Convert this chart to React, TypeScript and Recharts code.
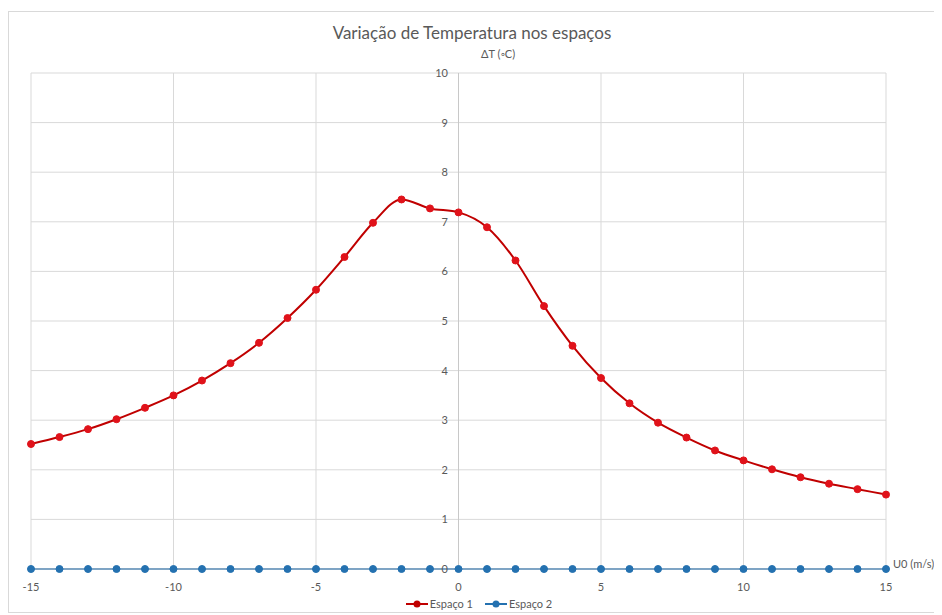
import { CartesianGrid, Legend, Line, LineChart, ReferenceLine, XAxis, YAxis } from 'recharts';

// Variação de Temperatura nos espaços

const velocidades = [-15, -14, -13, -12, -11, -10, -9, -8, -7, -6, -5, -4, -3, -2, -1, 0, 1, 2, 3, 4, 5, 6, 7, 8, 9, 10, 11, 12, 13, 14, 15];
const espaco1 = [2.52, 2.66, 2.82, 3.02, 3.25, 3.5, 3.8, 4.15, 4.56, 5.06, 5.63, 6.29, 6.98, 7.45, 7.27, 7.19, 6.89, 6.22, 5.3, 4.5, 3.85, 3.34, 2.95, 2.65, 2.39, 2.19, 2.01, 1.85, 1.72, 1.61, 1.5];
const espaco2 = [0, 0, 0, 0, 0, 0, 0, 0, 0, 0, 0, 0, 0, 0, 0, 0, 0, 0, 0, 0, 0, 0, 0, 0, 0, 0, 0, 0, 0, 0, 0];
const xTicks = [-15, -10, -5, 0, 5, 10, 15];
const yTicks = [0, 1, 2, 3, 4, 5, 6, 7, 8, 9, 10];

const data = velocidades.map((u, i) => ({ u, e1: espaco1[i], e2: espaco2[i] }));

const W = 932;
const H = 600;
const margin = { top: 61, right: 55, left: 21, bottom: 1 };
const centerX = margin.left + (W - margin.left - margin.right) / 2;
const font = 'Lato, "Open Sans", sans-serif';
const grey = '#595959';

const YTick = (props: any) => {
  const { y, payload } = props;
  return (
    <text x={centerX - 10} y={y} dy={4} textAnchor="end" fill={grey} fontSize={11} fontFamily={font}>
      {payload.value}
    </text>
  );
};

const LegendContent = ({ payload }: any) => (
  <div style={{ display: 'flex', justifyContent: 'center', gap: 12, fontSize: 11, color: grey }}>
    {(payload || []).map((item: any) => (
      <span key={item.value} style={{ display: 'flex', alignItems: 'center' }}>
        <svg width={22} height={10} style={{ marginRight: 2 }}>
          <line x1={0} y1={5} x2={22} y2={5} stroke={item.color} strokeWidth={2} />
          <circle cx={11} cy={5} r={3.5} fill={item.color} />
        </svg>
        {item.value}
      </span>
    ))}
  </div>
);

export default function App() {
  return (
    <div style={{ position: 'relative', width: W, height: H, marginTop: 3, border: '1px solid #d9d9d9', background: '#fff', fontFamily: font }}>
      <div style={{ position: 'absolute', top: 10, left: 0, width: W - 6, textAlign: 'center', fontSize: 17, color: grey }}>
        Variação de Temperatura nos espaços
      </div>
      <div style={{ position: 'absolute', top: 35, left: 472, fontSize: 11, color: grey }}>ΔT (◦C)</div>
      <div style={{ position: 'absolute', top: 545, left: 884, fontSize: 11, color: grey }}>U0 (m/s)</div>
      <LineChart width={W} height={H} data={data} margin={margin}>
        <CartesianGrid stroke="#d9d9d9" strokeWidth={1} />
        <XAxis
          dataKey="u"
          type="number"
          domain={[-15, 15]}
          ticks={xTicks}
          height={22}
          tickLine={false}
          axisLine={{ stroke: '#d9d9d9' }}
          tickMargin={8}
          tick={{ fill: grey, fontSize: 11, fontFamily: font }}
        />
        <YAxis
          type="number"
          domain={[0, 10]}
          ticks={yTicks}
          width={1}
          interval={0}
          axisLine={false}
          tickLine={false}
          tick={(p: any) => <YTick {...p} />}
        />
        <ReferenceLine x={0} stroke="#c8c8c8" />
        <Legend
          verticalAlign="bottom"
          height={20}
          wrapperStyle={{ left: 4, width: W, bottom: -5 }}
          content={<LegendContent />}
        />
        <Line
          type="monotone"
          dataKey="e1"
          name="Espaço 1"
          stroke="#c00000"
          strokeWidth={2}
          dot={{ r: 3.5, fill: '#e0121a', stroke: '#e0121a', strokeWidth: 1 }}
          isAnimationActive={false}
        />
        <Line
          type="monotone"
          dataKey="e2"
          name="Espaço 2"
          stroke="#2471b0"
          strokeWidth={2}
          dot={{ r: 3.5, fill: '#2471b0', stroke: '#2471b0', strokeWidth: 1 }}
          isAnimationActive={false}
        />
      </LineChart>
    </div>
  );
}
